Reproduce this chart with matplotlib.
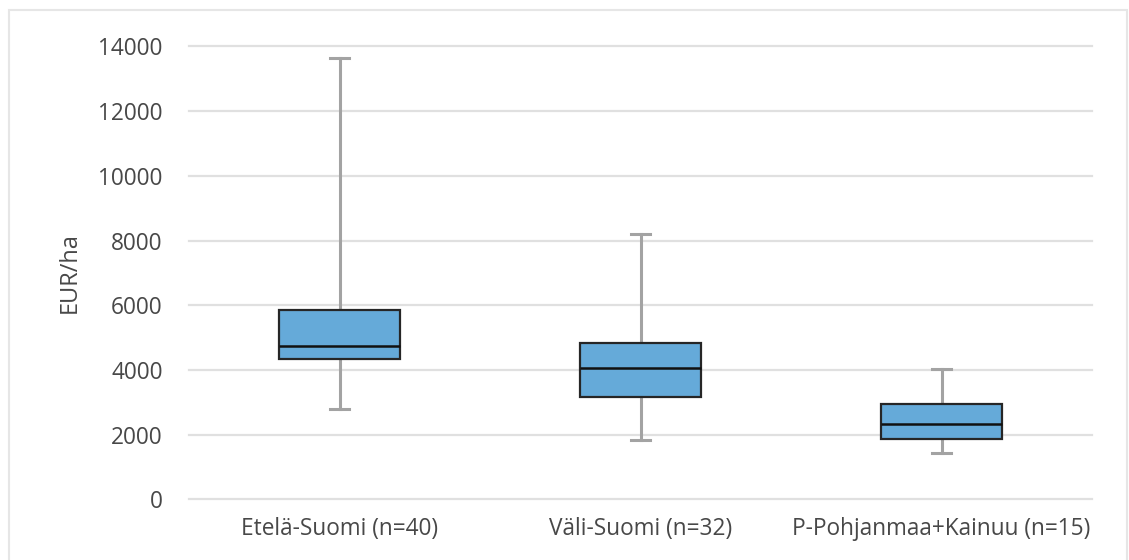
import matplotlib
matplotlib.use("Agg")
import matplotlib.pyplot as plt
from matplotlib.patches import Rectangle

categories = ["Etelä-Suomi (n=40)", "Väli-Suomi (n=32)", "P-Pohjanmaa+Kainuu (n=15)"]
whisker_low = [2800, 1840, 1440]
q1 = [4340, 3170, 1867]
median = [4750, 4050, 2320]
q3 = [5850, 4820, 2950]
whisker_high = [13630, 8200, 4030]
yticks = [0, 2000, 4000, 6000, 8000, 10000, 12000, 14000]

plt.rcParams['font.family'] = ['Open Sans', 'DejaVu Sans']

W, H = 1129, 560
fig = plt.figure(figsize=(W / 100, H / 100), dpi=100)
ax = fig.add_axes([189 / W, 1 - 499.3 / H, (1092 - 189) / W, (499.3 - 46.4) / H])

stats = []
for i, c in enumerate(categories):
    stats.append(dict(label=c, whislo=whisker_low[i], q1=q1[i], med=median[i],
                      q3=q3[i], whishi=whisker_high[i], fliers=[]))

bp = ax.bxp(stats, positions=range(len(categories)), widths=0.4, capwidths=0.06,
            showfliers=False, patch_artist=True,
            boxprops=dict(facecolor="#65aad9", edgecolor="#262626", linewidth=1.6),
            medianprops=dict(color="#111111", linewidth=1.8),
            whiskerprops=dict(color="#a3a3a3", linewidth=2.2),
            capprops=dict(color="#a3a3a3", linewidth=2.2))
for b in bp['boxes']:
    b.set_zorder(3)
for m in bp['medians']:
    m.set_zorder(4)

ax.set_xlim(-0.5, len(categories) - 0.5)
ax.set_ylim(0, 14000)
ax.set_yticks(yticks)
ax.set_yticklabels([str(v) for v in yticks])
ax.set_xticks(range(len(categories)))
ax.set_xticklabels(categories)
ax.grid(axis='y', color="#e0e0e0", linewidth=1.6, zorder=0)
ax.set_axisbelow(True)
for s in ax.spines.values():
    s.set_visible(False)
for t in ax.get_ygridlines():
    t.set_clip_on(False)
ax.tick_params(axis='both', length=0, labelsize=16.3, colors="#484848")
ax.tick_params(axis='y', pad=19)
ax.tick_params(axis='x', pad=13)
ax.set_ylabel("EUR/ha", fontsize=17, color="#484848")
ax.yaxis.set_label_coords((82 - 189) / (1092 - 189), 0.5)

fig.patches.append(Rectangle((9 / W, -0.1), (1127 - 9) / W, 1.1 - 10 / H,
                             transform=fig.transFigure, fill=False,
                             edgecolor="#e6e6e6", linewidth=1.5))

fig.savefig("out.png", dpi=100)
